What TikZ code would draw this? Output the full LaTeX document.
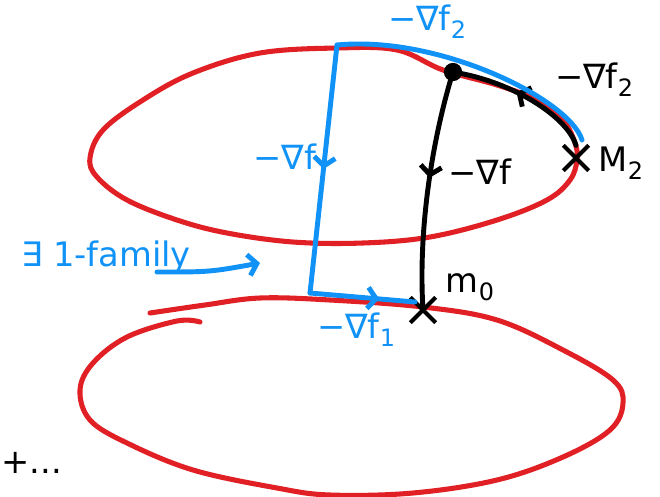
\documentclass[tikz,border=0pt]{standalone}
\usepackage{fontspec}
\setmainfont{DejaVu Sans}
\usetikzlibrary{arrows.meta,decorations.markings,shapes.misc}
\definecolor{inkred}{RGB}{224,32,36}
\definecolor{inkblue}{RGB}{16,146,246}
\newcommand{\sub}[1]{\raisebox{-0.45ex}{\fontsize{17}{17}\selectfont #1}}
\tikzset{
  every picture/.style={font=\fontsize{24}{28}\selectfont},
  level/.style={inkred,line width=3.6pt,line cap=round},
  flow/.style={line width=3.5pt,line cap=round,line join=round},
  bflow/.style={flow,inkblue},
  midarrow/.style={postaction={decorate},decoration={markings,
    mark=at position #1 with {\arrow{Straight Barb[length=6pt,width=15pt]}}}},
  crit/.style={cross out,draw,line width=3pt,minimum size=15pt,inner sep=0pt},
  lab/.style={inner sep=0pt},
}

\begin{document}
\begin{tikzpicture}[x=0.025cm,y=-0.025cm]
  \useasboundingbox (0,0) rectangle (660,496);
  % level sets
  \draw[level] plot[smooth cycle,tension=0.6] coordinates {
    (337,48) (397,50) (443,70) (497,85) (537,100) (563,120) (575,143)
    (577,160) (570,180) (547,200) (497,220) (430,237) (363,243) (293,242)
    (227,233) (177,220) (127,200) (97,177) (90,158) (103,130) (143,100)
    (193,73) (260,53)};
  \draw[level] plot[smooth,tension=0.6] coordinates {
    (150,313) (205,305) (260,298) (330,300) (423,307) (497,320) (563,350)
    (613,380) (623,403) (610,430) (563,457) (497,480) (413,493) (330,495)
    (277,488) (193,470) (127,443) (90,420) (80,390) (93,363) (127,337)
    (177,321) (200,322)};

  % points
  \node[circle,fill,inner sep=0pt,minimum size=13pt] (top) at (453,72) {};
  \node[crit] (m0) at (423,310) {};
  \node[crit] (M2) at (576,158) {};
  \coordinate (b2s) at (582,140);
  \coordinate (btop) at (337,45);
  \coordinate (bturn) at (310,293);
  \coordinate (bend) at (415,302);
  \coordinate (famS) at (157,272);
  \coordinate (famE) at (260,263);

  % black flow
  \draw[flow,midarrow=0.45] (top.center) .. controls (432,140) and (418,230) .. (m0.center);
  \draw[flow,midarrow=0.55] (M2.north) .. controls (568,118) and (515,82) .. (top.center);

  % blue path
  \draw[bflow] (b2s) .. controls (570,100) and (440,35) .. (btop);
  \draw[bflow,midarrow=0.5] (btop) -- (bturn);
  \draw[bflow,midarrow=0.66] (bturn) -- (bend);
  \draw[bflow,-{Straight Barb[length=6pt,width=15pt]}] (famS) .. controls (210,272) .. (famE);

  % labels
  \node[lab,inkblue] (lb2) at (427,22) {−∇f\sub{2}};
  \node[lab,inkblue] (lbf) at (285,157) {−∇f};
  \node[lab,inkblue] (lb1) at (356,330) {−∇f\sub{1}};
  \node[lab,inkblue] (lfam) at (106,257) {∃ 1-family};
  \node[lab] (lk2) at (594,80) {−∇f\sub{2}};
  \node[lab] (lkf) at (480,172) {−∇f};
  \node[lab] (lM2) at (621,163) {M\sub{2}};
  \node[lab] (lm0) at (470,287) {m\sub{0}};
  \node[lab,anchor=west] (more) at (1,463) {+...};
\end{tikzpicture}
\end{document}
